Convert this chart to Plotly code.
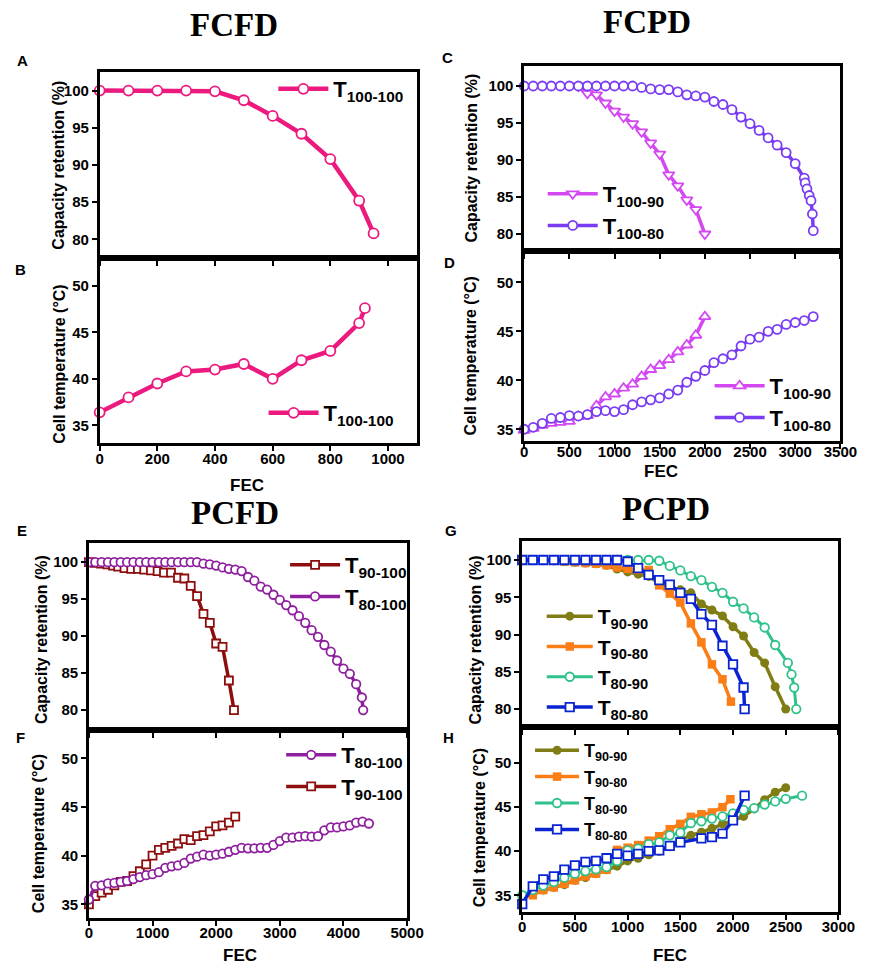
import plotly.graph_objects as go

W, H = 873, 966

# ---------------- data ----------------
# Panel A (FCFD capacity) / B (FCFD temperature)
A_fec = [0, 100, 200, 300, 400, 500, 600, 700, 800, 900, 950]
A_cap = [100, 100, 100, 100, 99.9, 98.7, 96.6, 94.2, 90.8, 85.2, 80.8]
B_fec = [0, 100, 200, 300, 400, 500, 600, 700, 800, 900, 920]
B_temp = [36.4, 38.0, 39.5, 40.8, 41.0, 41.6, 40.0, 42.0, 43.0, 46.0, 47.6]

# Panel C (FCPD capacity)
C_t10090_fec = [600, 700, 800, 900, 1000, 1100, 1200, 1300, 1400, 1500, 1600, 1700, 1800, 1900, 2000]
C_t10090_cap = [100, 99.0, 98.8, 97.7, 96.6, 95.8, 94.9, 93.8, 92.3, 90.8, 88.0, 86.5, 84.6, 83.3, 80.0]
C_t10080_fec = [0, 100, 200, 300, 400, 500, 600, 700, 800, 900, 1000, 1100, 1200, 1300, 1400, 1500,
                1600, 1700, 1800, 1900, 2000, 2100, 2200, 2300, 2400, 2500, 2600, 2700, 2800, 2900,
                3000, 3100, 3110, 3130, 3155, 3175, 3190, 3200]
C_t10080_cap = [100, 100, 100, 100, 100, 100, 100, 100, 100, 100, 100, 100, 100, 99.8, 99.6, 99.5,
                99.5, 99.2, 98.8, 98.65, 98.5, 97.9, 97.5, 96.8, 95.8, 94.9, 94.0, 93.0, 92.0, 91.0,
                89.5, 87.55, 86.9, 86.1, 85.2, 84.5, 82.7, 80.45]

# Panel D (FCPD temperature)
D_t10090_fec = [0, 100, 200, 300, 400, 500, 600, 700, 800, 900, 1000, 1100, 1200, 1300, 1400, 1500,
                1600, 1700, 1800, 1900, 2000]
D_t10090_temp = [34.9, 35.1, 35.4, 35.6, 35.7, 35.8, 36.3, 36.4, 37.4, 38.3, 38.6, 39.2, 39.6, 40.4,
                 41.1, 41.5, 42.1, 42.9, 43.6, 44.6, 46.5]
D_t10080_fec = [0, 100, 200, 300, 400, 500, 600, 700, 800, 900, 1000, 1100, 1200, 1300, 1400, 1500,
                1600, 1700, 1800, 1900, 2000, 2100, 2200, 2300, 2400, 2500, 2600, 2700, 2800, 2900,
                3000, 3100, 3200]
D_t10080_temp = [35.0, 35.2, 35.6, 36.1, 36.2, 36.4, 36.35, 36.5, 36.8, 36.9, 36.8, 37.0, 37.5, 37.8,
                 38.0, 38.2, 38.6, 39.0, 39.8, 40.4, 41.0, 41.8, 42.2, 42.6, 43.5, 44.2, 44.4, 45.0,
                 45.2, 45.7, 45.9, 46.1, 46.5]

# Panel E (PCFD capacity)
E_t90100_fec = [0, 90, 190, 290, 380, 460, 560, 665, 770, 870, 975, 1080, 1180, 1290, 1400, 1500,
                1600, 1700, 1800, 1900, 2000, 2100, 2200, 2280]
E_t90100_cap = [100, 99.9, 99.8, 99.7, 99.55, 99.4, 99.2, 99.1, 99.1, 99.0, 98.9, 98.8, 98.6, 98.6,
                97.9, 97.8, 96.8, 95.4, 93.0, 91.8, 89.0, 88.55, 84.0, 80.0]
E_t80100_fec = [0, 100, 200, 300, 400, 500, 600, 700, 800, 900, 1000, 1100, 1200, 1300, 1400, 1500,
                1600, 1700, 1800, 1900, 2000, 2100, 2200, 2300, 2400, 2500, 2600, 2700, 2800, 2900,
                3000, 3100, 3200, 3300, 3400, 3500, 3600, 3700, 3800, 3900, 4000, 4100, 4200, 4290,
                4310]
E_t80100_cap = [100, 100, 100, 100, 100, 100, 100, 100, 100, 100, 100, 100, 100, 100, 100, 100,
                100, 100, 99.8, 99.7, 99.55, 99.3, 99.1, 99.0, 98.8, 98.0, 97.5, 96.7, 96.3, 95.6,
                94.9, 94.2, 93.5, 92.7, 91.8, 90.8, 89.9, 88.8, 87.9, 86.7, 85.6, 84.9, 83.5, 81.7,
                80.0]

# Panel F (PCFD temperature)
F_t80100_fec = [0, 100, 200, 300, 400, 500, 600, 700, 800, 900, 1000, 1100, 1200, 1300, 1400, 1500,
                1600, 1700, 1800, 1900, 2000, 2100, 2200, 2300, 2400, 2500, 2600, 2700, 2800, 2900,
                3000, 3100, 3200, 3300, 3400, 3500, 3600, 3700, 3800, 3900, 4000, 4100, 4200, 4300,
                4400]
F_t80100_temp = [35.5, 36.9, 36.95, 37.15, 37.2, 37.3, 37.4, 37.6, 37.8, 38.0, 38.1, 38.3, 38.75,
                 38.9, 39.0, 39.25, 39.7, 39.9, 40.1, 40.0, 40.1, 40.2, 40.4, 40.6, 40.8, 40.75,
                 40.75, 40.8, 40.8, 41.1, 41.5, 41.85, 41.85, 41.95, 42.0, 41.95, 42.0, 42.6, 42.9,
                 42.9, 43.0, 43.1, 43.4, 43.5, 43.3]
F_t90100_fec = [0, 100, 200, 300, 400, 500, 600, 700, 800, 900, 1000, 1100, 1200, 1300, 1400, 1500,
                1600, 1700, 1800, 1900, 2000, 2100, 2200, 2300]
F_t90100_temp = [35.0, 35.85, 36.2, 36.5, 36.95, 37.3, 37.4, 37.9, 38.4, 39.1, 40.0, 40.6, 40.8, 41.0,
                 41.25, 41.7, 41.6, 42.0, 42.1, 42.5, 43.0, 43.1, 43.4, 44.0]

# Panel G (PCPD capacity)
G_t9090_fec = [0, 100, 200, 300, 400, 500, 600, 700, 800, 900, 1000, 1100, 1200, 1300, 1400, 1500,
               1600, 1700, 1800, 1900, 2000, 2100, 2200, 2300, 2400, 2500]
G_t9090_cap = [100, 100, 100, 99.9, 99.8, 99.7, 99.6, 99.5, 99.3, 98.8, 98.4, 98.1, 97.8, 96.9, 96.3,
               96.0, 95.6, 94.1, 93.3, 92.5, 91.05, 89.8, 87.6, 86.2, 83.0, 80.0]
G_t9080_fec = [0, 100, 200, 300, 400, 500, 600, 700, 800, 900, 1000, 1100, 1200, 1300, 1400, 1500,
               1600, 1700, 1800, 1900, 1980]
G_t9080_cap = [100, 100, 100, 99.9, 99.8, 99.7, 99.6, 99.5, 99.3, 99.0, 98.8, 98.7, 98.65, 96.6, 95.5,
               94.3, 91.5, 88.95, 86.0, 84.0, 81.0]
G_t8090_fec = [0, 100, 200, 300, 400, 500, 600, 700, 800, 900, 1000, 1100, 1200, 1300, 1400, 1500,
               1600, 1700, 1800, 1900, 2000, 2100, 2200, 2300, 2400, 2520, 2555, 2580, 2600]
G_t8090_cap = [100, 100, 100, 100, 100, 100, 100, 100, 100, 100, 100, 100, 100, 99.9, 99.2, 98.6,
               97.85, 97.3, 96.4, 95.6, 94.4, 93.5, 92.3, 90.95, 88.6, 86.2, 84.65, 82.9, 80.0]
G_t8080_fec = [0, 100, 200, 300, 400, 500, 600, 700, 800, 900, 1000, 1100, 1200, 1300, 1400, 1500,
               1600, 1700, 1800, 1900, 2000, 2100, 2110]
G_t8080_cap = [100, 100, 100, 100, 100, 100, 100, 100, 100, 100, 99.8, 98.9, 98.0, 97.3, 96.7, 95.6,
               94.8, 92.75, 91.3, 88.5, 86.0, 82.9, 80.0]

# Panel H (PCPD temperature)
H_t9090_fec = [0, 100, 200, 300, 400, 500, 600, 700, 800, 900, 1000, 1100, 1200, 1300, 1400, 1500,
               1600, 1700, 1800, 1900, 2000, 2100, 2200, 2300, 2400, 2500]
H_t9090_temp = [34.8, 35.2, 35.6, 35.9, 36.2, 36.7, 37.0, 37.45, 37.9, 38.3, 38.9, 39.2, 39.6, 40.0,
                40.5, 41.3, 41.8, 42.15, 42.6, 43.1, 43.5, 43.95, 44.8, 45.85, 46.7, 47.2]
H_t9080_fec = [100, 200, 300, 400, 500, 600, 700, 800, 900, 1000, 1100, 1200, 1300, 1400, 1500, 1600,
               1700, 1800, 1900, 1975]
H_t9080_temp = [35.0, 35.6, 35.9, 36.3, 36.7, 37.15, 37.45, 37.9, 40.15, 40.4, 40.7, 41.2, 41.7, 42.5,
                43.1, 43.9, 44.2, 44.4, 45.0, 45.9]
H_t8090_fec = [0, 100, 200, 300, 400, 500, 600, 700, 800, 900, 1000, 1100, 1200, 1300, 1400, 1500,
               1600, 1700, 1800, 1900, 2000, 2100, 2200, 2300, 2400, 2500, 2655]
H_t8090_temp = [35.0, 35.6, 36.1, 36.5, 37.0, 37.45, 37.75, 37.95, 38.2, 38.9, 40.1, 40.3, 40.8, 41.0,
                41.8, 42.1, 43.2, 43.4, 43.7, 43.95, 44.3, 44.7, 44.9, 45.3, 45.65, 45.95, 46.3]
H_t8080_fec = [0, 100, 200, 300, 400, 500, 600, 700, 800, 900, 1000, 1100, 1200, 1300, 1400, 1500,
               1700, 1800, 1900, 2000, 2110]
H_t8080_temp = [34.0, 36.0, 36.8, 37.15, 37.9, 38.4, 38.8, 38.9, 39.2, 39.7, 39.5, 39.7, 40.0, 40.1,
                40.6, 41.0, 41.45, 41.6, 42.0, 43.5, 46.3]

# tick settings
A_xticks = [0, 200, 400, 600, 800, 1000]
C_xticks = [0, 500, 1000, 1500, 2000, 2500, 3000, 3500]
E_xticks = [0, 1000, 2000, 3000, 4000, 5000]
G_xticks = [0, 500, 1000, 1500, 2000, 2500, 3000]
cap_ticks = [80, 85, 90, 95, 100]
temp_ticks = [35, 40, 45, 50]

# ---------------- styling ----------------
PINK = '#EC1A7E'
MAG = '#D448F2'
VIO = '#7A3CF2'
DRED = '#8E0E0E'
PURP = '#8E1F9E'
OLIVE = '#7F7D14'
ORANGE = '#FB7D16'
GREEN = '#2FC28A'
BLUE = '#0A24D2'

SANS = 'Liberation Sans, Arial, sans-serif'
SERIF = 'Liberation Serif, Times New Roman, serif'

fig = go.Figure()


def fx(p):
    return p / W


def fy(p):
    return 1 - p / H


panels = [
    # name, x px, y px (top,bottom), xrange, xticks, show x labels, label standoff, yrange, yticks
    ('1', (98, 423), (72, 258), [0, 1100], A_xticks, False, 0, [77.5, 102.5], cap_ticks),
    ('2', (98, 423), (258, 443), [0, 1100], A_xticks, True, -5, [33.1, 53.0], temp_ticks),
    ('3', (533, 857), (66, 251), [0, 3500], C_xticks, False, 0, [77.7, 102.7], cap_ticks),
    ('4', (533, 857), (251, 441), [0, 3500], C_xticks, True, -10, [33.8, 53.2], temp_ticks),
    ('5', (87, 413), (543, 730), [0, 5000], E_xticks, False, 0, [77.3, 102.6], cap_ticks),
    ('6', (87, 413), (730, 918), [0, 5000], E_xticks, True, -6, [33.6, 52.9], temp_ticks),
    ('7', (531, 855), (541, 727), [0, 3000], G_xticks, False, 0, [77.6, 102.55], cap_ticks),
    ('8', (531, 855), (727, 912), [0, 3000], G_xticks, True, -6, [33.1, 54.1], temp_ticks),
]

axis_common = dict(showline=True, linecolor='black', linewidth=2.5, mirror=True,
                   ticks='outside', ticklen=5, tickwidth=2, tickcolor='black',
                   showgrid=False, zeroline=False,
                   tickfont=dict(family=SANS, size=15, color='black'))


def bold_labels(vals):
    return ['<b>%d</b>' % v for v in vals]


layout_axes = {}
for key, xp, yp, xr, xt, showlab, stand, yr, yt in panels:
    xname = 'xaxis' if key == '1' else 'xaxis' + key
    yname = 'yaxis' if key == '1' else 'yaxis' + key
    layout_axes[xname] = dict(domain=[fx(xp[0]), fx(xp[1])], range=xr, tickvals=xt,
                              ticktext=bold_labels(xt), ticklabelstandoff=stand,
                              showticklabels=showlab, anchor='y' if key == '1' else 'y' + key,
                              **axis_common)
    layout_axes[yname] = dict(domain=[fy(yp[1]), fy(yp[0])], range=yr, tickvals=yt,
                              ticktext=bold_labels(yt),
                              anchor='x' if key == '1' else 'x' + key, **axis_common)


def add(key, xs, ys, name, color, symbol, size, lw, legend, filled=False, rank=1000):
    fig.add_trace(go.Scatter(
        x=xs, y=ys, mode='lines+markers', name=name,
        xaxis='x' if key == '1' else 'x' + key,
        yaxis='y' if key == '1' else 'y' + key,
        line=dict(color=color, width=lw),
        marker=dict(symbol=symbol, size=size,
                    color=color if filled else 'white',
                    line=dict(color=color, width=0 if filled else 1.8)),
        legend=legend, legendrank=rank, cliponaxis=False))


def lab(t):
    return '<b>T<sub>' + t + '</sub></b>'


add('1', A_fec, A_cap, lab('100-100'), PINK, 'circle', 10, 4.5, 'legend')
add('2', B_fec, B_temp, lab('100-100'), PINK, 'circle', 10, 4.5, 'legend2')

add('3', C_t10090_fec, C_t10090_cap, lab('100-90'), MAG, 'triangle-down', 10, 3.5, 'legend3')
add('3', C_t10080_fec, C_t10080_cap, lab('100-80'), VIO, 'circle', 9, 3.5, 'legend3')
add('4', D_t10090_fec, D_t10090_temp, lab('100-90'), MAG, 'triangle-up', 10, 3.5, 'legend4')
add('4', D_t10080_fec, D_t10080_temp, lab('100-80'), VIO, 'circle', 9, 3.5, 'legend4')

add('5', E_t90100_fec, E_t90100_cap, lab('90-100'), DRED, 'square', 8, 3.5, 'legend5')
add('5', E_t80100_fec, E_t80100_cap, lab('80-100'), PURP, 'circle', 8.5, 3.5, 'legend5')
add('6', F_t90100_fec, F_t90100_temp, lab('90-100'), DRED, 'square', 8, 3.5, 'legend6', rank=2)
add('6', F_t80100_fec, F_t80100_temp, lab('80-100'), PURP, 'circle', 8.5, 3.5, 'legend6', rank=1)

add('7', G_t9090_fec, G_t9090_cap, lab('90-90'), OLIVE, 'circle', 9, 3.5, 'legend7', filled=True)
add('7', G_t9080_fec, G_t9080_cap, lab('90-80'), ORANGE, 'square', 8.5, 3.5, 'legend7', filled=True)
add('7', G_t8090_fec, G_t8090_cap, lab('80-90'), GREEN, 'circle', 8.5, 3.0, 'legend7')
add('7', G_t8080_fec, G_t8080_cap, lab('80-80'), BLUE, 'square', 8.5, 3.5, 'legend7')
add('8', H_t9090_fec, H_t9090_temp, lab('90-90'), OLIVE, 'circle', 9, 3.5, 'legend8', filled=True)
add('8', H_t9080_fec, H_t9080_temp, lab('90-80'), ORANGE, 'square', 8.5, 3.5, 'legend8', filled=True)
add('8', H_t8090_fec, H_t8090_temp, lab('80-90'), GREEN, 'circle', 8.5, 3.0, 'legend8')
add('8', H_t8080_fec, H_t8080_temp, lab('80-80'), BLUE, 'square', 8.5, 3.5, 'legend8')


def leg(xpx, ypx, size=22, iw=50):
    return dict(x=fx(xpx), y=fy(ypx), xanchor='left', yanchor='middle',
                bgcolor='rgba(0,0,0,0)', borderwidth=0, itemwidth=iw,
                font=dict(family=SANS, size=size, color='black'),
                tracegroupgap=0)


legends = dict(
    legend=leg(276, 89),
    legend2=leg(266, 413),
    legend3=leg(552, 210),
    legend4=leg(723, 402),
    legend5=leg(288, 581),
    legend6=leg(284, 771),
    legend7=leg(551, 662, 21, 46),
    legend8=leg(539, 790, 18, 44),
)

annotations = []


def note(text, xpx, ypx, size, family=SANS, angle=0):
    annotations.append(dict(text=text, x=fx(xpx), y=fy(ypx), xref='paper', yref='paper',
                            xanchor='center', yanchor='middle', showarrow=False,
                            textangle=angle,
                            font=dict(family=family, size=size, color='black')))


# panel titles
note('<b>FCFD</b>', 236, 25, 33, SERIF)
note('<b>FCPD</b>', 659, 22, 33, SERIF)
note('<b>PCFD</b>', 237, 513, 33, SERIF)
note('<b>PCPD</b>', 678, 509, 33, SERIF)
# letters
for t, xx, yy in [('A', 19, 60), ('B', 17, 269), ('C', 454, 58), ('D', 456, 263),
                  ('E', 18, 530), ('F', 17, 737), ('G', 458, 530), ('H', 455, 737)]:
    note('<b>' + t + '</b>', xx, yy, 15)
# axis titles
CAP = '<b>Capacity retention (%)</b>'
TMP = '<b>Cell temperature (°C)</b>'
note(CAP, 56, 165, 16, angle=-90)
note(TMP, 56, 364, 16, angle=-90)
note(CAP, 478, 158, 16, angle=-90)
note(TMP, 479, 356, 16, angle=-90)
note(CAP, 38, 640, 16, angle=-90)
note(TMP, 35, 834, 16, angle=-90)
note(CAP, 483, 640, 16, angle=-90)
note(TMP, 487, 828, 16, angle=-90)
note('<b>FEC</b>', 249, 486, 17)
note('<b>FEC</b>', 673, 471, 17)
note('<b>FEC</b>', 242, 955, 17)
note('<b>FEC</b>', 682, 955, 17)

fig.update_layout(width=W, height=H, margin=dict(l=0, r=0, t=0, b=0),
                  paper_bgcolor='white', plot_bgcolor='white',
                  showlegend=True, annotations=annotations, **layout_axes, **legends)

fig.write_html('out.html', config={'displayModeBar': False},
               post_script="document.body.style.margin='0px';document.body.style.padding='0px';")
